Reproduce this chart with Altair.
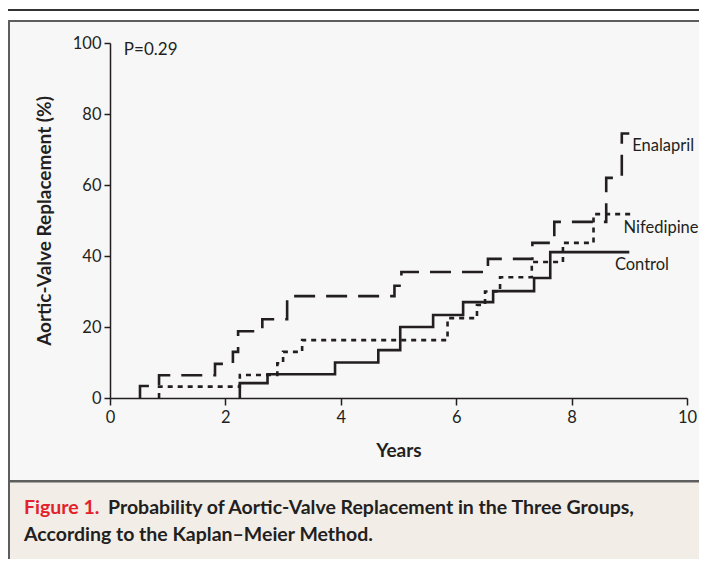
import altair as alt
import pandas as pd

# ---- data ----
years_ticks = [0, 2, 4, 6, 8, 10]
pct_ticks = [0, 20, 40, 60, 80, 100]

groups = ["Enalapril", "Nifedipine", "Control"]

enal_t = [0.52, 0.85, 1.82, 2.13, 2.22, 2.64, 3.07, 4.93, 5.05, 6.55, 7.32, 7.70, 8.60, 8.87, 9.00]
enal_v = [3.4, 6.4, 9.6, 13.0, 18.8, 22.2, 28.7, 31.6, 35.5, 39.2, 43.7, 49.6, 62.0, 74.5, 74.5]

nif_t = [0.85, 2.25, 2.90, 3.00, 3.33, 5.85, 6.36, 6.50, 6.76, 7.31, 7.85, 8.38, 9.03]
nif_v = [3.2, 6.5, 9.8, 13.0, 16.3, 22.5, 26.2, 30.0, 34.0, 38.3, 43.7, 51.8, 51.8]

ctrl_t = [2.25, 2.73, 3.90, 4.65, 5.03, 5.60, 6.12, 6.64, 7.35, 7.63, 9.00]
ctrl_v = [4.2, 6.7, 10.0, 13.5, 20.0, 23.4, 27.0, 30.1, 33.8, 41.1, 41.1]

label_t = [9.05, 8.90, 8.75]
label_v = [71.0, 47.9, 37.5]

p_text = ["P=0.29"]
p_t = [0.24]
p_v = [98.0]

caption_red = "Figure 1."
caption_1 = "Probability of Aortic-Valve Replacement in the Three Groups,"
caption_2 = "According to the Kaplan\u2013Meier Method."

INK = "#231f20"
BORDER = "#5e5e5e"
FONT = "Lato"


def km(name, t, v):
    rows = [{"group": name, "order": 0, "t": t[0], "v": 0.0}]
    for i, (a, b) in enumerate(zip(t, v)):
        rows.append({"group": name, "order": i + 1, "t": a, "v": b})
    return pd.DataFrame(rows)


X = alt.X("t:Q", scale=alt.Scale(domain=[0, 10], nice=False),
          axis=alt.Axis(values=years_ticks, title="Years", format="d", zindex=1,
                        labelFlush=False, tickSize=7, labelPadding=4, titlePadding=16))
Y = alt.Y("v:Q", scale=alt.Scale(domain=[0, 100], nice=False),
          axis=alt.Axis(values=pct_ticks, title="Aortic-Valve Replacement (%)", zindex=1,
                        labelFlush=False, format="d", tickSize=6, labelPadding=3,
                        titlePadding=18))

deco = alt.Chart(pd.DataFrame({"k": [0]}))


def box(x1, x2, y1, y2, color):
    return deco.mark_rect(color=color).encode(
        x=alt.value(x1), x2=alt.value(x2), y=alt.value(y1), y2=alt.value(y2))


top_line = box(-110, 600, -34, -32, "#333333")
panel = box(-101, 600, -22, 438, "#f7f7f7")
cap_bg = box(-101, 600, 438, 600, "#f2ede7")
border_top = box(-102, 600, -23, -21, BORDER)
border_mid = box(-102, 600, 437, 439.5, BORDER)
border_left = box(-102, -100, -23, 600, BORDER)

cap_red = deco.mark_text(text=caption_red, align="left", baseline="middle", font=FONT,
                         fontSize=19.5, fontWeight="bold", color="#e3212b").encode(
    x=alt.value(-86), y=alt.value(465))
cap_1 = deco.mark_text(text=caption_1, align="left", baseline="middle", font=FONT,
                       fontSize=19.5, fontWeight="bold", color=INK).encode(
    x=alt.value(-2), y=alt.value(465))
cap_2 = deco.mark_text(text=caption_2, align="left", baseline="middle", font=FONT,
                       fontSize=19.5, fontWeight="bold", color=INK).encode(
    x=alt.value(-86), y=alt.value(492))

enal = alt.Chart(km("Enalapril", enal_t, enal_v)).mark_line(
    interpolate="step-after", color=INK, strokeWidth=2.6, strokeDash=[21, 11]).encode(
    x=X, y=Y, order="order:Q")
nif = alt.Chart(km("Nifedipine", nif_t, nif_v)).mark_line(
    interpolate="step-after", color=INK, strokeWidth=2.6, strokeDash=[5, 5]).encode(
    x=X, y=Y, order="order:Q")
ctrl = alt.Chart(km("Control", ctrl_t, ctrl_v)).mark_line(
    interpolate="step-after", color=INK, strokeWidth=2.6).encode(
    x=X, y=Y, order="order:Q")

labels = alt.Chart(pd.DataFrame({"name": groups, "t": label_t, "v": label_v})).mark_text(
    align="left", baseline="middle", font=FONT, fontSize=16.5, color=INK).encode(
    x=X, y=Y, text="name:N")
ptext = alt.Chart(pd.DataFrame({"name": p_text, "t": p_t, "v": p_v})).mark_text(
    align="left", baseline="middle", font=FONT, fontSize=17, color=INK).encode(
    x=X, y=Y, text="name:N")

chart = alt.layer(top_line, panel, cap_bg, border_top, border_mid, border_left,
                  cap_red, cap_1, cap_2,
                  ctrl, nif, enal, labels, ptext).properties(
    width=577, height=355,
    padding={"left": 102, "top": 35, "right": 12, "bottom": 161},
    autosize=alt.AutoSizeParams(type="none"),
    background="white",
).configure_axis(
    grid=False, domainColor=INK, domainWidth=1.5, tickColor=INK, tickWidth=1.5,
    labelFont=FONT, labelFontSize=16.5, labelColor=INK,
    titleFont=FONT, titleFontSize=19, titleFontWeight="bold", titleColor=INK,
).configure_view(stroke=None)

chart.save("out.html", embed_options={"renderer": "svg", "actions": False})
